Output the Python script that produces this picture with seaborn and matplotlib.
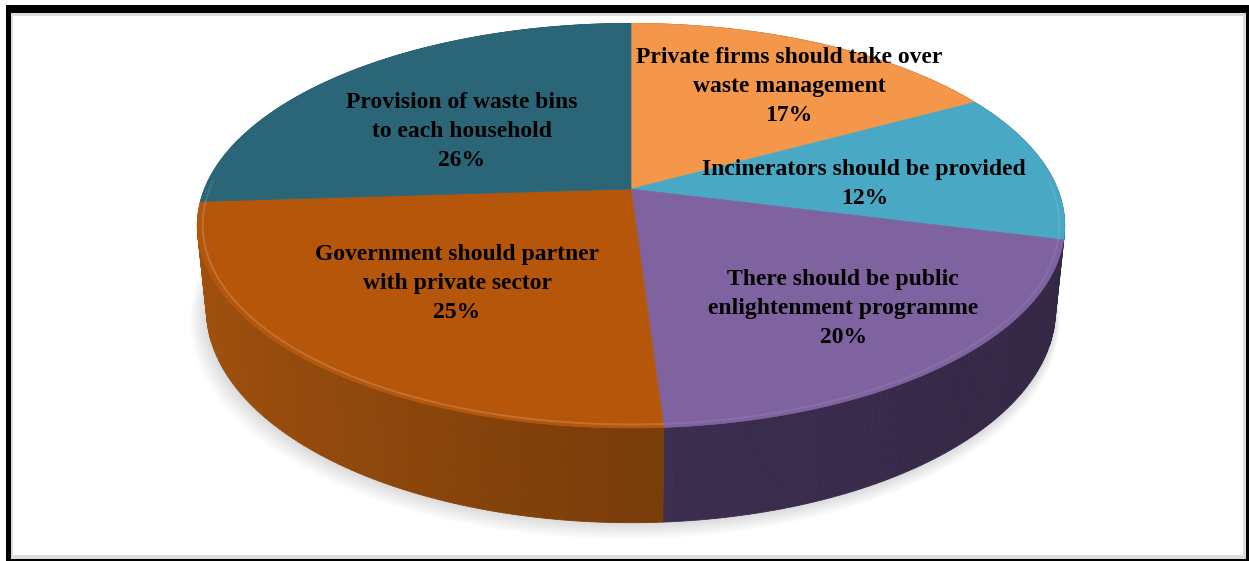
import numpy as np
import matplotlib
matplotlib.use("Agg")
import matplotlib.pyplot as plt
import seaborn as sns
from matplotlib.patches import Polygon, Rectangle
from matplotlib.colors import to_rgb

# ---- data ----
categories = [
    "Private firms should take over\nwaste management",
    "Incinerators should be provided",
    "There should be public\nenlightenment programme",
    "Government should partner\nwith private sector",
    "Provision of waste bins\nto each household",
]
values = [17, 12, 20, 25, 26]
top_colors = ["#F4974A", "#49A9C5", "#7F62A0", "#B5560A", "#2A6678"]
side_colors = ["#9A5420", "#2A6E82", "#3C2E50", "#7A3D0A", "#1C4653"]

# ---- layout / style (not data) ----
label_r = [0.71, 0.55, 0.71, 0.58, 0.52]
label_dtheta = [-4.6, -4.6, -0.5, 1.1, 6.9]
bevel_alpha = [0.35, 0.25, 0.25, 0.55, 0.3]

sns.set_theme(style="white")
plt.rcParams["font.family"] = ["Liberation Serif", "DejaVu Serif"]

W, H = 1249, 561
fig = plt.figure(figsize=(W / 100, H / 100), dpi=100)
ax = fig.add_axes([0, 0, 1, 1])
ax.set_xlim(0, W)
ax.set_ylim(H, 0)
ax.axis("off")

# frame
ax.add_patch(Rectangle((6, 5), W - 6, H - 5, facecolor="black", edgecolor="none", zorder=0))
ax.add_patch(Rectangle((11, 13), 1235, 546, facecolor="#dcdcdc", edgecolor="none", zorder=0.1))
ax.add_patch(Rectangle((13, 16), 1230, 539, facecolor="white", edgecolor="none", zorder=0.2))

# ---- perspective projection of a 3D disk ----
cx, cy = 631.0, 189.0
elev = np.radians(27.3)
D, f, h = 4.90, 2090.0, 0.223
se, ce = np.sin(elev), np.cos(elev)


def proj(r, theta_deg, z):
    t = np.radians(theta_deg)
    X = r * np.cos(t)
    Y = r * np.sin(t)
    yc = Y * se + z * ce
    depth = D + Y * ce - z * se
    return cx + f * X / depth, cy - f * yc / depth


vals = np.array(values, dtype=float)
frac = vals / vals.sum()
cum = np.concatenate([[0], np.cumsum(frac)])
theta_start = 90 - 360 * cum[:-1]
theta_end = 90 - 360 * cum[1:]

# soft shadow
tt = np.linspace(0, 360, 361)
bx, by = proj(1.0, tt, -h)
bcx, bcy = np.mean(bx), np.mean(by)
for k in range(12, 0, -1):
    s = 1 + 0.002 * k
    ax.add_patch(Polygon(np.column_stack([bcx + (bx - bcx) * s - 0.5 * k, bcy + (by - bcy) * s + 0.9 * k]),
                         closed=True, facecolor="#a0a0a0", edgecolor="none", alpha=0.03, zorder=1))


def shade(base, theta):
    c = np.cos(np.radians(theta))
    fac = 1 + 0.32 * (-c) if c < 0 else 1 - 0.15 * c
    return np.clip(np.array(to_rgb(base)) * fac, 0, 1)


# side walls
quads = []
for i in range(len(values)):
    n = max(int(abs(theta_end[i] - theta_start[i])), 2)
    ts = np.linspace(theta_start[i], theta_end[i], n + 1)
    for a, b in zip(ts[:-1], ts[1:]):
        xa_t, ya_t = proj(1.0, a, 0)
        xb_t, yb_t = proj(1.0, b, 0)
        xa_b, ya_b = proj(1.0, a, -h)
        xb_b, yb_b = proj(1.0, b, -h)
        mid = 0.5 * (a + b)
        quads.append((np.sin(np.radians(mid)),
                      [(xa_t, ya_t), (xb_t, yb_t), (xb_b, yb_b), (xa_b, ya_b)],
                      shade(side_colors[i], mid)))
quads.sort(key=lambda q: -q[0])
for _, pts, col in quads:
    ax.add_patch(Polygon(pts, closed=True, facecolor=col, edgecolor=col, lw=0.6, zorder=2))

# top faces
for i in range(len(values)):
    ts = np.linspace(theta_start[i], theta_end[i], 200)
    xs, ys = proj(1.0, ts, 0)
    pts = np.column_stack([np.concatenate([[cx], xs]), np.concatenate([[cy], ys])])
    ax.add_patch(Polygon(pts, closed=True, facecolor=top_colors[i], edgecolor=top_colors[i], lw=0.5, zorder=3))
    front = ts[np.sin(np.radians(ts)) < 0.05]
    if len(front) > 1:
        hx, hy = proj(0.988, front, 0)
        light = np.clip(np.array(to_rgb(top_colors[i])) * 0.7 + 0.3, 0, 1)
        ax.plot(hx, hy, color=light, lw=1.4, alpha=bevel_alpha[i], zorder=4, solid_capstyle="round")

# labels
for i in range(len(values)):
    mid = 0.5 * (theta_start[i] + theta_end[i]) + label_dtheta[i]
    lx, ly = proj(label_r[i], mid, 0)
    ax.text(lx, ly, f"{categories[i]}\n{values[i]}%", ha="center", va="center",
            fontsize=17, fontweight="bold", color="black", linespacing=1.5, zorder=5)

fig.savefig("out.png", dpi=100)
